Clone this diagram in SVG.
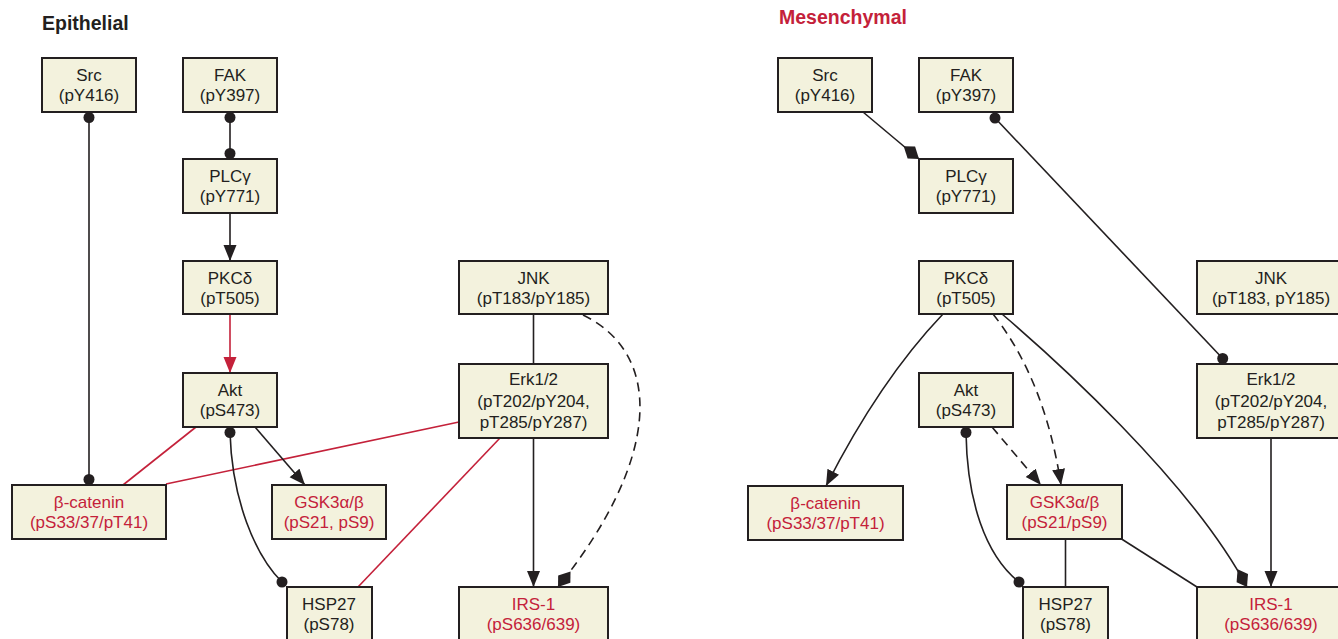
<svg xmlns="http://www.w3.org/2000/svg" width="1338" height="639" viewBox="0 0 1338 639">
<defs>
<style>
.box{fill:#f3f2dd;stroke:#231f20;stroke-width:2}
.t{font-family:"Liberation Sans",Arial,sans-serif;font-size:17px;fill:#231f20;text-anchor:middle}
.title{font-family:"Liberation Sans",Arial,sans-serif;font-size:19.5px;font-weight:bold;fill:#231f20}
.r{fill:#c4213a}
.title.r{fill:#c4213a}
.t.r{fill:#c4213a}
.c{fill:none;stroke:#231f20;stroke-width:1.6}
.red{stroke:#c4213a}
.dash{stroke-dasharray:9 6}
</style>
<marker id="arr" markerWidth="18" markerHeight="14" refX="16" refY="7" orient="auto" markerUnits="userSpaceOnUse"><path d="M0,0.5 L16,7 L0,13.5 Z" fill="#231f20" stroke="none"/></marker>
<marker id="arrRed" markerWidth="18" markerHeight="14" refX="16" refY="7" orient="auto" markerUnits="userSpaceOnUse"><path d="M0,0.5 L16,7 L0,13.5 Z" fill="#c4213a" stroke="none"/></marker>
<marker id="dot" markerWidth="12" markerHeight="12" refX="6" refY="6" markerUnits="userSpaceOnUse"><circle cx="6" cy="6" r="5.5" fill="#231f20" stroke="none"/></marker>
<marker id="dia" markerWidth="22" markerHeight="16" refX="20" refY="8" orient="auto" markerUnits="userSpaceOnUse"><path d="M0,8 L9,1 L20,8 L11,15 Z" fill="#231f20" stroke="none"/></marker>
</defs>

<text class="title" x="42" y="30">Epithelial</text>
<text class="title r" x="779" y="24">Mesenchymal</text>

<g id="connectors">
<!-- Epithelial -->
<path class="c" d="M89,117.5 L89,479.5" marker-start="url(#dot)" marker-end="url(#dot)"/>
<path class="c" d="M230,117.5 L230,153.5" marker-start="url(#dot)" marker-end="url(#dot)"/>
<path class="c" d="M230,213 L230,261" marker-end="url(#arr)"/>
<path class="c red" d="M230,314 L230,373" marker-end="url(#arrRed)"/>
<path class="c red" d="M196,427 L123,485"/>
<path class="c red" d="M459,422 L166,484"/>
<path class="c red" d="M500,438 L358,587"/>
<path class="c" d="M255,427 L305,485" marker-end="url(#arr)"/>
<path class="c" d="M230,432.5 C232,500 255,555 282,582" marker-start="url(#dot)" marker-end="url(#dot)"/>
<path class="c" d="M533.5,314 L533.5,364"/>
<path class="c" d="M533.5,438 L533.5,587" marker-end="url(#arr)"/>
<path class="c dash" d="M583,315 C665,355 660,460 558,587" marker-end="url(#dia)"/>
<!-- Mesenchymal -->
<path class="c" d="M863,112 L919,159" marker-end="url(#dia)"/>
<path class="c" d="M995,118 L1222.7,358.5" marker-start="url(#dot)" marker-end="url(#dot)"/>
<path class="c" d="M943,314 Q880,380 826,486" marker-end="url(#arr)"/>
<path class="c dash" d="M993,314 Q1045,380 1061,485" marker-end="url(#arr)"/>
<path class="c dash" d="M992,427 L1041,485" marker-end="url(#arr)"/>
<path class="c" d="M966,432.5 C967,500 985,555 1019,582" marker-start="url(#dot)" marker-end="url(#dot)"/>
<path class="c" d="M1065.5,539 L1065.5,587"/>
<path class="c" d="M1120,538 L1197,587"/>
<path class="c" d="M1002,314 C1050,355 1190,480 1247,587" marker-end="url(#dia)"/>
<path class="c" d="M1271,438 L1271,587" marker-end="url(#arr)"/>
</g>

<!-- Epithelial nodes -->
<g id="e-src"><rect class="box" x="42" y="58" width="94" height="54"/><text class="t" x="89" y="81">Src</text><text class="t" x="89" y="101">(pY416)</text></g>
<g id="e-fak"><rect class="box" x="183" y="58" width="94" height="54"/><text class="t" x="230" y="81">FAK</text><text class="t" x="230" y="101">(pY397)</text></g>
<g id="e-plc"><rect class="box" x="183" y="159" width="94" height="54"/><text class="t" x="230" y="182">PLCγ</text><text class="t" x="230" y="202">(pY771)</text></g>
<g id="e-pkc"><rect class="box" x="183" y="261" width="94" height="53"/><text class="t" x="230" y="284">PKCδ</text><text class="t" x="230" y="304">(pT505)</text></g>
<g id="e-akt"><rect class="box" x="183" y="373" width="94" height="54"/><text class="t" x="230" y="396">Akt</text><text class="t" x="230" y="416">(pS473)</text></g>
<g id="e-bcat"><rect class="box" x="12" y="485" width="154" height="54"/><text class="t r" x="89" y="508">β-catenin</text><text class="t r" x="89" y="528">(pS33/37/pT41)</text></g>
<g id="e-gsk"><rect class="box" x="272" y="485" width="114" height="54"/><text class="t r" x="329" y="508">GSK3α/β</text><text class="t r" x="329" y="528">(pS21, pS9)</text></g>
<g id="e-hsp"><rect class="box" x="287" y="587" width="85" height="60"/><text class="t" x="329" y="610">HSP27</text><text class="t" x="329" y="630">(pS78)</text></g>
<g id="e-jnk"><rect class="box" x="459" y="261" width="149" height="53"/><text class="t" x="533.5" y="284">JNK</text><text class="t" x="533.5" y="304">(pT183/pY185)</text></g>
<g id="e-erk"><rect class="box" x="459" y="364" width="149" height="74"/><text class="t" x="533.5" y="384.5">Erk1/2</text><text class="t" x="533.5" y="406.5">(pT202/pY204,</text><text class="t" x="533.5" y="428">pT285/pY287)</text></g>
<g id="e-irs"><rect class="box" x="459" y="587" width="149" height="60"/><text class="t r" x="533.5" y="610">IRS-1</text><text class="t r" x="533.5" y="630">(pS636/639)</text></g>

<!-- Mesenchymal nodes -->
<g id="m-src"><rect class="box" x="778" y="58" width="94" height="54"/><text class="t" x="825" y="81">Src</text><text class="t" x="825" y="101">(pY416)</text></g>
<g id="m-fak"><rect class="box" x="919" y="58" width="94" height="54"/><text class="t" x="966" y="81">FAK</text><text class="t" x="966" y="101">(pY397)</text></g>
<g id="m-plc"><rect class="box" x="919" y="159" width="94" height="54"/><text class="t" x="966" y="182">PLCγ</text><text class="t" x="966" y="202">(pY771)</text></g>
<g id="m-pkc"><rect class="box" x="919" y="261" width="94" height="53"/><text class="t" x="966" y="284">PKCδ</text><text class="t" x="966" y="304">(pT505)</text></g>
<g id="m-akt"><rect class="box" x="919" y="373" width="94" height="54"/><text class="t" x="966" y="396">Akt</text><text class="t" x="966" y="416">(pS473)</text></g>
<g id="m-bcat"><rect class="box" x="748" y="486" width="155" height="54"/><text class="t r" x="825.5" y="509">β-catenin</text><text class="t r" x="825.5" y="529">(pS33/37/pT41)</text></g>
<g id="m-gsk"><rect class="box" x="1007" y="485" width="115" height="54"/><text class="t r" x="1064.5" y="508">GSK3α/β</text><text class="t r" x="1064.5" y="528">(pS21/pS9)</text></g>
<g id="m-hsp"><rect class="box" x="1023" y="587" width="85" height="60"/><text class="t" x="1065.5" y="610">HSP27</text><text class="t" x="1065.5" y="630">(pS78)</text></g>
<g id="m-jnk"><rect class="box" x="1197" y="261" width="149" height="53"/><text class="t" x="1271" y="284">JNK</text><text class="t" x="1271" y="304">(pT183, pY185)</text></g>
<g id="m-erk"><rect class="box" x="1197" y="364" width="149" height="74"/><text class="t" x="1271" y="384.5">Erk1/2</text><text class="t" x="1271" y="406.5">(pT202/pY204,</text><text class="t" x="1271" y="428">pT285/pY287)</text></g>
<g id="m-irs"><rect class="box" x="1197" y="587" width="149" height="60"/><text class="t r" x="1271" y="610">IRS-1</text><text class="t r" x="1271" y="630">(pS636/639)</text></g>
</svg>
